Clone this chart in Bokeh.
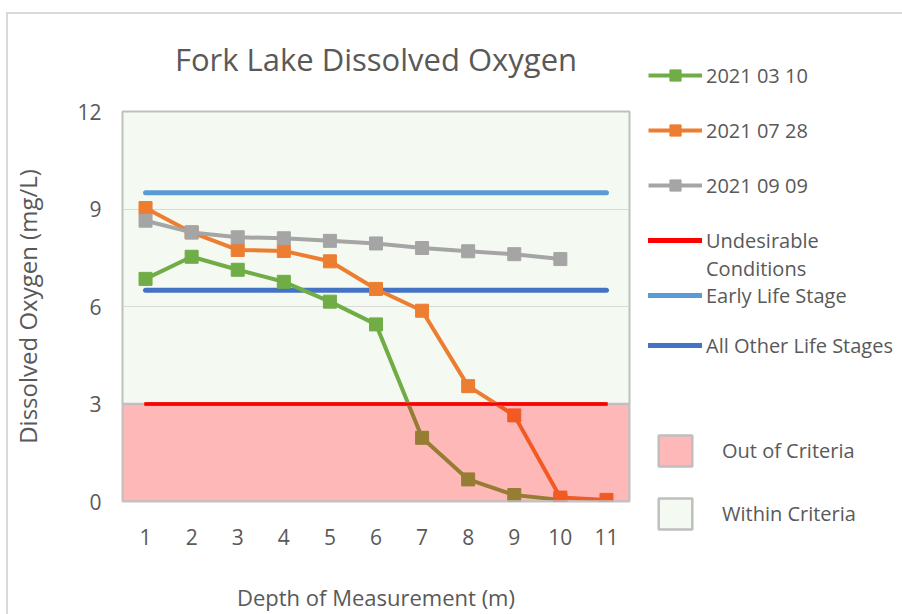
from bokeh.plotting import figure
from bokeh.models import (ColumnDataSource, Legend, LegendItem, FixedTicker, Range1d, Row)
from bokeh.embed import file_html
from bokeh.resources import INLINE

# ---- data ----
depths = [1, 2, 3, 4, 5, 6, 7, 8, 9, 10, 11]
do_2021_03_10 = [6.85, 7.53, 7.13, 6.76, 6.15, 5.45, 1.96, 0.68, 0.2, 0.05]
do_2021_07_28 = [9.03, 8.28, 7.74, 7.71, 7.39, 6.54, 5.87, 3.55, 2.65, 0.12, 0.05]
do_2021_09_09 = [8.64, 8.28, 8.13, 8.1, 8.02, 7.94, 7.8, 7.7, 7.61, 7.46]
undesirable = 3.0
early_life = 9.5
other_life = 6.5
y_ticks = [0, 3, 6, 9, 12]
y_max = 12

TXT = "#595959"
FONT = "Open Sans"
GREEN, ORANGE, GREY = "#70ad47", "#ed7d31", "#a5a5a5"
RED, LBLUE, DBLUE = "#ff0000", "#5b9bd5", "#4472c4"
BORDER = "#bfbfbf"
IN_BG = "#f4f9f1"

series = [
    ("2021 03 10", do_2021_03_10, GREEN),
    ("2021 07 28", do_2021_07_28, ORANGE),
    ("2021 09 09", do_2021_09_09, GREY),
]
thresholds = [("Undesirable", undesirable, RED),
              ("Early Life Stage", early_life, LBLUE),
              ("All Other Life Stages", other_life, DBLUE)]

p = figure(width=634, height=612, output_backend="svg", toolbar_location=None,
           x_range=Range1d(0.5, len(depths) + 0.5), y_range=Range1d(0, y_max),
           min_border_left=116, min_border_right=11, min_border_top=109, min_border_bottom=113)
p.frame_align = False

p.background_fill_color = IN_BG
p.border_fill_color = None
p.outline_line_color = BORDER
p.outline_line_width = 2

p.title.text = "Fork Lake Dissolved Oxygen"
p.title.align = "center"
p.title.text_font = FONT
p.title.text_font_size = "31px"
p.title.text_font_style = "normal"
p.title.text_color = TXT
p.title.standoff = 64

p.xgrid.visible = False
p.ygrid.ticker = FixedTicker(ticks=y_ticks)
p.ygrid.grid_line_color = "#d9d9d9"
p.ygrid.grid_line_width = 1

for ax in (p.xaxis, p.yaxis):
    ax.axis_line_color = None
    ax.major_tick_line_color = None
    ax.minor_tick_line_color = None
    ax.major_label_text_font = FONT
    ax.major_label_text_font_size = "21px"
    ax.major_label_text_color = TXT
    ax.axis_label_text_font = FONT
    ax.axis_label_text_font_style = "normal"
    ax.axis_label_text_color = TXT

p.xaxis.axis_label_text_font_size = "22px"
p.yaxis.axis_label_text_font_size = "24px"
p.xaxis.ticker = FixedTicker(ticks=depths)
p.yaxis.ticker = FixedTicker(ticks=y_ticks)
p.xaxis.major_label_standoff = 21
p.yaxis.major_label_standoff = 15
p.xaxis.axis_label = "Depth of Measurement (m)"
p.yaxis.axis_label = "Dissolved Oxygen (mg/L)"
p.xaxis.axis_label_standoff = 34
p.yaxis.axis_label_standoff = 30

x0, x1 = depths[0], depths[-1]
xl, xr = 0.5, len(depths) + 0.5

# white base under the out-of-criteria tint
p.quad(left=xl, right=xr, bottom=0, top=undesirable, fill_color="white", line_color=None, level="underlay")

for name, v, col in thresholds:
    p.line([x0, x1], [v, v], line_color=col, line_width=5 if col != RED else 4, line_cap="round")

for name, vals, col in series:
    src = ColumnDataSource(dict(x=depths[:len(vals)], y=vals))
    p.line("x", "y", source=src, line_color=col, line_width=4)
    p.scatter("x", "y", source=src, marker="square", size=13, fill_color=col, line_color=col)

# out of criteria tint (drawn over the lines)
p.quad(left=xl, right=xr, bottom=0, top=undesirable,
       fill_color=RED, fill_alpha=0.28, line_color=BORDER, line_width=2.5)
p.line([x0, x1], [undesirable, undesirable], line_color=RED, line_width=3, line_cap="round")

# ---- legend panel (separate canvas to the right; its ranges hide the data) ----
lg = figure(width=262, height=612, output_backend="svg", toolbar_location=None,
            x_range=Range1d(-20, -10), y_range=Range1d(-20, -10),
            x_axis_type=None, y_axis_type=None,
            min_border_left=0, min_border_right=0, min_border_top=0, min_border_bottom=0)
lg.frame_align = False
lg.grid.visible = False
lg.outline_line_color = None
lg.background_fill_color = None
lg.border_fill_color = None

items = []
for name, vals, col in series:
    src = ColumnDataSource(dict(x=depths[:len(vals)], y=vals))
    l = lg.line("x", "y", source=src, line_color=col, line_width=4)
    m = lg.scatter("x", "y", source=src, marker="square", size=13, fill_color=col, line_color=col)
    items.append(LegendItem(label=name, renderers=[l, m]))
for name, v, col in thresholds:
    l = lg.line([x0, x1], [v, v], line_color=col, line_width=5, line_cap="round")
    items.append(LegendItem(label=name, renderers=[l]))
blank = lg.line([x0, x1], [undesirable, undesirable], line_alpha=0)
q_out = lg.quad(left=[xl], right=[xr], bottom=[0], top=[undesirable], fill_color=RED, fill_alpha=0.28,
                line_color=BORDER, line_width=2.5)
q_in = lg.quad(left=[xl], right=[xr], bottom=[undesirable], top=[y_max], fill_color=IN_BG,
               line_color=BORDER, line_width=2.5)

style = dict(padding=0, margin=0, border_line_color=None, background_fill_alpha=0,
             label_text_font=FONT, label_text_font_size="20px", label_text_color=TXT)

leg1 = Legend(items=items[:5], location=(8, 305), glyph_width=54, glyph_height=28,
              label_height=28, spacing=27, label_standoff=4, **style)
lg.add_layout(leg1, "center")
leg4 = Legend(items=items[5:], location=(8, 255), glyph_width=54, glyph_height=28,
              label_height=28, label_standoff=4, **style)
lg.add_layout(leg4, "center")
leg3 = Legend(items=[LegendItem(label="Conditions", renderers=[blank])], location=(8, 332),
              glyph_width=54, glyph_height=28, label_height=28, label_standoff=4, **style)
lg.add_layout(leg3, "center")
leg2 = Legend(items=[LegendItem(label="Out of Criteria", renderers=[q_out]),
                     LegendItem(label="Within Criteria", renderers=[q_in])],
              location=(14, 81), glyph_width=42, glyph_height=39, label_height=39,
              spacing=24, label_standoff=26, **style)
lg.add_layout(leg2, "center")

layout = Row(children=[p, lg], spacing=0)
layout.styles = {
    "margin-left": "6px",
    "margin-top": "2px",
    "background": ("linear-gradient(#d9d9d9, #d9d9d9) 0 10px / 100% 2px no-repeat, "
                   "linear-gradient(#d9d9d9, #d9d9d9) 0 10px / 2px 100% no-repeat, white"),
}

open("out.html", "w").write(file_html(layout, INLINE))
